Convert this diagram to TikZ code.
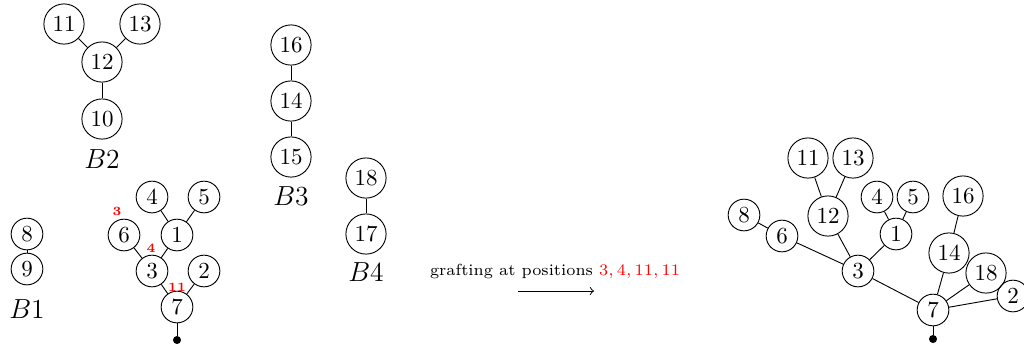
\documentclass[tikz,border=0pt]{standalone}
\begin{document}
\begin{tikzpicture}[x=0.435pt, y=-0.435pt, auto]
    \tikzset{vtx/.style={draw=black,circle,inner sep=2pt}, blbl/.style={font=\large}, gpos/.style={red,font=\bfseries\fontsize{5.5}{6}\selectfont}, rootdot/.style={fill=black,circle,inner sep=0pt,minimum size=3.5pt}};
    \useasboundingbox (0,0) rectangle (1024,346);
    % B1
    \node[vtx] (aN8) at (27,234) {$8$};
    \node[vtx] (aN9) at (27,269) {$9$};
    \node[blbl] (aL) at (27,309) {$B1$};
    % B2
    \node[vtx] (bN11) at (64,24) {$11$};
    \node[vtx] (bN13) at (140,24) {$13$};
    \node[vtx] (bN12) at (102,62) {$12$};
    \node[vtx] (bN10) at (102,119) {$10$};
    \node[blbl] (bL) at (102,159) {$B2$};
    % B3
    \node[vtx] (cN16) at (291,45) {$16$};
    \node[vtx] (cN14) at (291,101) {$14$};
    \node[vtx] (cN15) at (291,157) {$15$};
    \node[blbl] (cL) at (291,196) {$B3$};
    % B4
    \node[vtx] (dN18) at (366,178) {$18$};
    \node[vtx] (dN17) at (366,234) {$17$};
    \node[blbl] (dL) at (366,272) {$B4$};
    % tree T
    \node[vtx] (tN4) at (152,197) {$4$};
    \node[vtx] (tN5) at (204,197) {$5$};
    \node[vtx] (tN6) at (124,235) {$6$};
    \node[vtx] (tN1) at (177,235) {$1$};
    \node[vtx] (tN3) at (152,271) {$3$};
    \node[vtx] (tN2) at (204,271) {$2$};
    \node[vtx] (tN7) at (177,307) {$7$};
    \node[rootdot] (tR) at (177,340) {};
    \node[gpos] (tP3) at (117,211) {3};
    \node[gpos] (tP4) at (151,248) {4};
    \node[gpos] (tP11) at (177,287) {11};
    % grafting
    \node[font=\scriptsize] (gText) at (555,271) {grafting at positions {\color{red}$3, 4, 11, 11$}};
    \coordinate (gA) at (518,291);
    \coordinate (gB) at (594,291);
    \draw[->] (gA) -- (gB);
    % grafted tree
    \node[vtx] (sN11) at (808,158) {$11$};
    \node[vtx] (sN13) at (853,158) {$13$};
    \node[vtx] (sN12) at (828,216) {$12$};
    \node[vtx] (sN4) at (877,197) {$4$};
    \node[vtx] (sN5) at (913,197) {$5$};
    \node[vtx] (sN1) at (896,234) {$1$};
    \node[vtx] (sN8) at (744,215) {$8$};
    \node[vtx] (sN6) at (782,236) {$6$};
    \node[vtx] (sN16) at (963,196) {$16$};
    \node[vtx] (sN14) at (949,253) {$14$};
    \node[vtx] (sN18) at (986,273) {$18$};
    \node[vtx] (sN3) at (858,271) {$3$};
    \node[vtx] (sN7) at (933,310) {$7$};
    \node[vtx] (sN2) at (1013,296) {$2$};
    \node[rootdot] (sR) at (933,339) {};
    {
      \path
        (aN8) edge (aN9)
        (bN11) edge (bN12)
        (bN13) edge (bN12)
        (bN12) edge (bN10)
        (cN16) edge (cN14)
        (cN14) edge (cN15)
        (dN18) edge (dN17)
        (tN4) edge (tN1)
        (tN5) edge (tN1)
        (tN6) edge (tN3)
        (tN1) edge (tN3)
        (tN3) edge (tN7)
        (tN2) edge (tN7)
        (tN7) edge (tR)
        (sN11) edge (sN12)
        (sN13) edge (sN12)
        (sN4) edge (sN1)
        (sN5) edge (sN1)
        (sN8) edge (sN6)
        (sN6) edge (sN3)
        (sN12) edge (sN3)
        (sN1) edge (sN3)
        (sN16) edge (sN14)
        (sN3) edge (sN7)
        (sN14) edge (sN7)
        (sN18) edge (sN7)
        (sN2) edge (sN7)
        (sN7) edge (sR)
        ;
      }
\end{tikzpicture}
\end{document}
